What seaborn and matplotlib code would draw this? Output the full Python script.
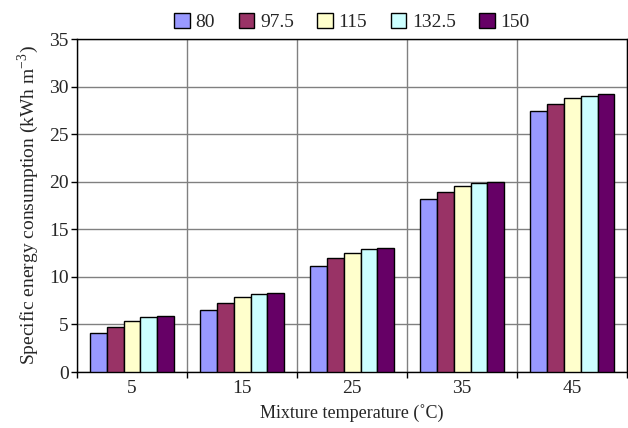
import matplotlib
matplotlib.use("Agg")
import matplotlib.pyplot as plt
import seaborn as sns
import pandas as pd
import numpy as np

# Mixture temperatures (°C) and the series shown in the legend
temperatures = ["5", "15", "25", "35", "45"]
series = ["80", "97.5", "115", "132.5", "150"]

# Specific energy consumption (kWh m^-3) per series, one value per temperature
s80 = [4.05, 6.52, 11.15, 18.2, 27.4]
s97_5 = [4.77, 7.29, 11.95, 18.95, 28.15]
s115 = [5.38, 7.85, 12.55, 19.5, 28.75]
s132_5 = [5.75, 8.18, 12.9, 19.85, 29.05]
s150 = [5.84, 8.3, 13.05, 20.0, 29.2]

colors = ["#9999FF", "#993366", "#FFFFCC", "#CCFFFF", "#660066"]

values = [s80, s97_5, s115, s132_5, s150]
df = pd.DataFrame({
    "temperature": np.repeat([temperatures], len(series), axis=0).ravel(),
    "series": np.repeat(series, len(temperatures)),
    "value": np.concatenate(values),
})

sns.set_theme(style="white")
plt.rcParams["font.family"] = ["Liberation Serif", "DejaVu Serif"]
plt.rcParams["mathtext.fontset"] = "custom"
plt.rcParams["mathtext.rm"] = "Liberation Serif"

fig = plt.figure(figsize=(6.28, 4.28), dpi=100)
ax = fig.add_axes([0.1226, 0.1308, 0.876, 0.778])

sns.barplot(data=df, x="temperature", y="value", hue="series",
            order=temperatures, hue_order=series, palette=colors,
            width=0.77, edgecolor="black", linewidth=1.0,
            saturation=1, errorbar=None, ax=ax, zorder=3)

ax.set_ylim(0, 35)
ax.set_xlim(-0.5, len(temperatures) - 0.5)
ax.set_yticks(np.arange(0, 36, 5))
ax.set_xticks(range(len(temperatures)))
ax.set_xticklabels(temperatures)
ax.set_xticks(np.arange(-0.5, len(temperatures), 1.0), minor=True)

ax.grid(axis="y", which="major", color="#808080", linewidth=1.0, zorder=0)
ax.grid(axis="x", which="minor", color="#808080", linewidth=1.0, zorder=0)
ax.set_axisbelow(True)

for side in ["left", "bottom", "top", "right"]:
    ax.spines[side].set_color("black")
    ax.spines[side].set_linewidth(1.0)

ax.tick_params(axis="y", which="major", direction="out", length=4, width=1,
               color="black", labelsize=14, pad=2, left=True)
ax.tick_params(axis="x", which="major", length=0, labelsize=14, pad=6)
ax.tick_params(axis="x", which="minor", direction="out", length=4, width=1,
               color="black", bottom=True)

ax.set_xlabel("Mixture temperature (\u02daC)", fontsize=13, labelpad=5)
ax.set_ylabel("Specific energy consumption (kWh m$^{-3}$)", fontsize=14,
              labelpad=6)

handles, labels = ax.get_legend_handles_labels()
ax.legend(handles, labels, loc="center", bbox_to_anchor=(0.5, 1.05),
          ncol=5, frameon=False, fontsize=14, handlelength=0.8,
          handleheight=0.8, handletextpad=0.3, columnspacing=1.2,
          borderaxespad=0)

fig.savefig("out.png", dpi=100)
